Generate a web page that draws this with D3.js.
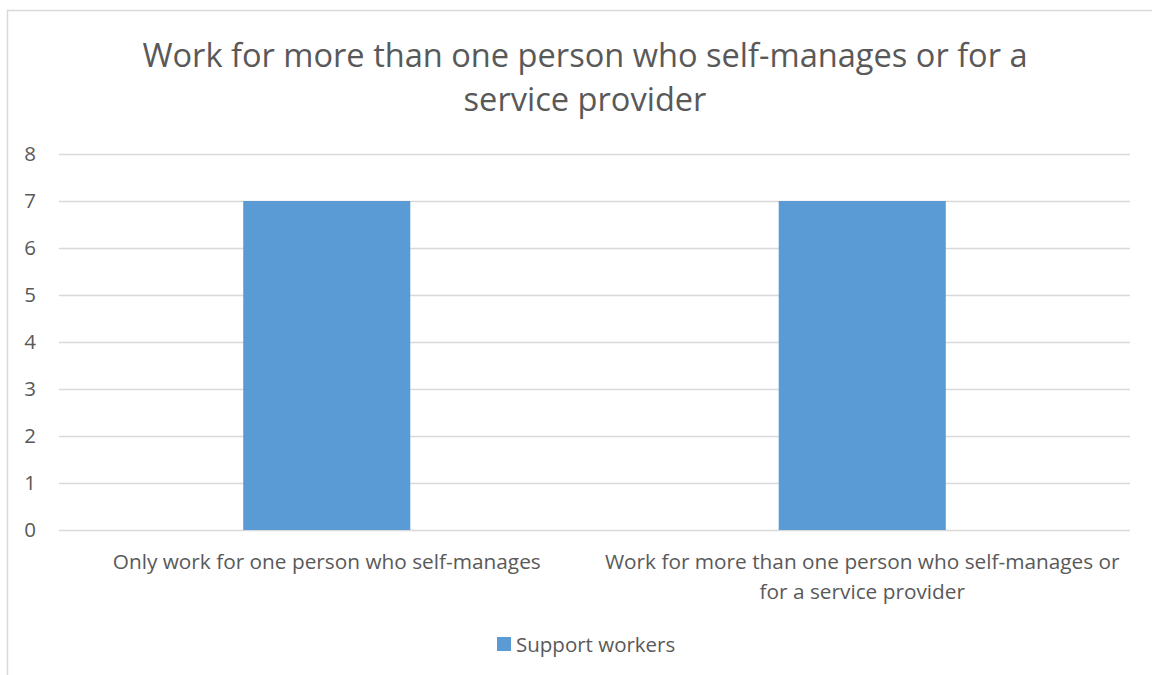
<!DOCTYPE html>
<html>
<head>
<meta charset="utf-8">
<script src="https://cdn.jsdelivr.net/npm/d3@7"></script>
<style>
  html, body { margin: 0; padding: 0; background: #fff; }
  svg { display: block; font-family: "Open Sans", "Noto Sans", sans-serif; }
</style>
</head>
<body>
<svg id="chart" width="1152" height="675"></svg>
<script>
// Chart data
const titleLines = ["Work for more than one person who self-manages or for a", "service provider"];
const categories = ["Only work for one person who self-manages",
                    "Work for more than one person who self-manages or for a service provider"];
const categoryLines = [["Only work for one person who self-manages"],
                       ["Work for more than one person who self-manages or", "for a service provider"]];
const seriesName = "Support workers";
const supportWorkers = [7, 7];
const yTicks = [0, 1, 2, 3, 4, 5, 6, 7, 8];

const textColor = "#595959";
const gridColor = "#d9d9d9";
const barColor = "#5b9bd5";

const svg = d3.select("#chart");

// Chart area frame
svg.append("path")
  .attr("d", "M7.5,675 V10.5 H1152")
  .attr("fill", "none")
  .attr("stroke", gridColor)
  .attr("stroke-width", 1.5);

const plot = { left: 59, right: 1130, top: 154, bottom: 530 };

const x = d3.scaleBand()
  .domain(categories)
  .range([plot.left, plot.right])
  .padding(0);

const y = d3.scaleLinear()
  .domain([0, 8])
  .range([plot.bottom, plot.top]);

// Title
svg.append("g").selectAll("text")
  .data(titleLines)
  .join("text")
  .attr("x", 585)
  .attr("y", (d, i) => 67 + i * 44)
  .attr("text-anchor", "middle")
  .attr("font-size", 32.6)
  .attr("fill", textColor)
  .text(d => d);

// Gridlines and value labels
const yAxis = d3.axisLeft(y)
  .tickValues(yTicks)
  .tickSize(-(plot.right - plot.left))
  .tickPadding(22)
  .tickFormat(d3.format("d"));

const gAxis = svg.append("g")
  .attr("transform", `translate(${plot.left},0)`)
  .call(yAxis);
gAxis.select(".domain").remove();
gAxis.selectAll(".tick line").attr("stroke", gridColor).attr("stroke-width", 1.5);
gAxis.selectAll(".tick text")
  .attr("fill", textColor)
  .attr("font-size", 20.5)
  .attr("font-family", "Open Sans, sans-serif")
  .attr("text-anchor", "middle")
  .attr("x", -29);

// Bars
const barFrac = 0.312;
svg.append("g").selectAll("rect")
  .data(supportWorkers)
  .join("rect")
  .attr("x", (d, i) => x(categories[i]) + x.bandwidth() * (1 - barFrac) / 2)
  .attr("width", x.bandwidth() * barFrac)
  .attr("y", d => y(d))
  .attr("height", d => y(0) - y(d))
  .attr("fill", barColor);

// Category labels
const catG = svg.append("g");
categoryLines.forEach((lines, i) => {
  catG.append("text")
    .attr("text-anchor", "middle")
    .attr("font-size", 20.8)
    .attr("fill", textColor)
    .selectAll("tspan")
    .data(lines)
    .join("tspan")
    .attr("x", x(categories[i]) + x.bandwidth() / 2)
    .attr("y", (d, j) => 569 + j * 30)
    .text(d => d);
});

// Legend
const legend = svg.append("g");
legend.append("rect")
  .attr("x", 497).attr("y", 637)
  .attr("width", 14).attr("height", 14)
  .attr("fill", barColor);
legend.append("text")
  .attr("x", 516).attr("y", 652)
  .attr("font-size", 20.5)
  .attr("fill", textColor)
  .text(seriesName);
</script>
</body>
</html>
